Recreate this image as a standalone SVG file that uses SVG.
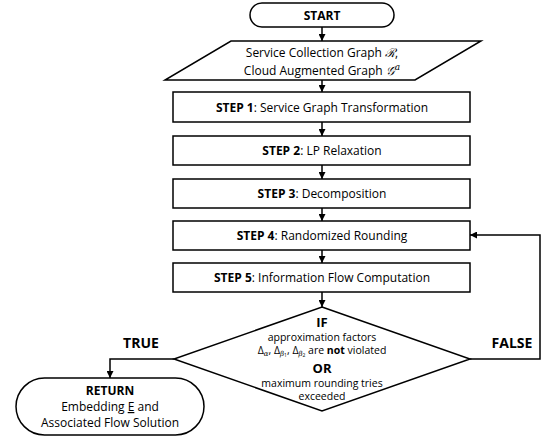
<svg xmlns="http://www.w3.org/2000/svg" width="547" height="438" viewBox="0 0 547 438">
<style>
.shape{fill:#fff;stroke:#000;stroke-width:1.5}
.conn{fill:none;stroke:#000;stroke-width:1.5}
text{font-family:"Open Sans","Liberation Sans",Arial,sans-serif;fill:#000;text-anchor:middle}
.t{font-size:12px}
.b{font-weight:bold}
.h{font-size:14px;font-weight:bold}
.d{font-size:13px;font-weight:bold}
.s{font-size:10.5px}
.m{font-family:"DejaVu Serif","Liberation Serif",serif;font-style:italic}
</style>
<defs>
<marker id="ah" viewBox="0 0 10 10" refX="10" refY="5" markerWidth="7" markerHeight="7" markerUnits="userSpaceOnUse" orient="auto">
<path d="M0,0 L10,5 L0,10 z" fill="#000"/>
</marker>
</defs>
<g id="connectors">
<line class="conn" x1="322" y1="27" x2="322" y2="41" marker-end="url(#ah)"/>
<line class="conn" x1="322" y1="80" x2="322" y2="92" marker-end="url(#ah)"/>
<line class="conn" x1="322" y1="122" x2="322" y2="136" marker-end="url(#ah)"/>
<line class="conn" x1="322" y1="165" x2="322" y2="179" marker-end="url(#ah)"/>
<line class="conn" x1="322" y1="208" x2="322" y2="221" marker-end="url(#ah)"/>
<line class="conn" x1="322" y1="250" x2="322" y2="263" marker-end="url(#ah)"/>
<line class="conn" x1="322" y1="292" x2="322" y2="307" marker-end="url(#ah)"/>
<polyline class="conn" points="174,359 110,359 110,378" marker-end="url(#ah)"/>
<polyline class="conn" points="470,359 540,359 540,235 470,235" marker-end="url(#ah)"/>
<text class="h" x="141" y="348">TRUE</text>
<text class="h" x="512" y="348">FALSE</text>
</g>
<g id="start">
<rect class="shape" x="250" y="3" width="144" height="24" rx="12" ry="12"/>
<text class="t b" x="322" y="19.5">START</text>
</g>
<g id="input">
<polygon class="shape" points="231,41 481,41 415,80 165,80"/>
<text class="t" x="322" y="57">Service Collection  Graph <tspan font-family="DejaVu Serif,serif" font-style="italic">ℛ</tspan>,</text>
<text class="t" x="322" y="75">Cloud Augmented Graph <tspan font-family="DejaVu Serif,serif" font-style="italic">𝒢</tspan><tspan class="m" font-size="9" dy="-5">a</tspan></text>
</g>
<g id="step1">
<rect class="shape" x="173" y="92" width="297" height="30"/>
<text class="t" x="322" y="111.5"><tspan class="b">STEP 1</tspan>: Service Graph Transformation</text>
</g>
<g id="step2">
<rect class="shape" x="173" y="136" width="297" height="29"/>
<text class="t" x="322" y="155"><tspan class="b">STEP 2</tspan>: LP Relaxation</text>
</g>
<g id="step3">
<rect class="shape" x="173" y="179" width="297" height="29"/>
<text class="t" x="322" y="198"><tspan class="b">STEP 3</tspan>: Decomposition</text>
</g>
<g id="step4">
<rect class="shape" x="173" y="221" width="297" height="29"/>
<text class="t" x="322" y="240"><tspan class="b">STEP 4</tspan>: Randomized Rounding</text>
</g>
<g id="step5">
<rect class="shape" x="173" y="263" width="297" height="29"/>
<text class="t" x="322" y="282"><tspan class="b">STEP 5</tspan>: Information Flow Computation</text>
</g>
<g id="decision">
<polygon class="shape" points="322,307 470,359 322,411 174,359"/>
<text class="d" x="322" y="327">IF</text>
<text class="s" x="322" y="341">approximation factors</text>
<text class="s" x="322" y="354">Δ<tspan class="m" font-size="7" dy="1.5">α</tspan><tspan dy="-1.5">, Δ</tspan><tspan class="m" font-size="7" dy="1.5">β</tspan><tspan font-size="5" dy="1">1</tspan><tspan dy="-2.5">, Δ</tspan><tspan class="m" font-size="7" dy="1.5">β</tspan><tspan font-size="5" dy="1">2</tspan><tspan dy="-2.5"> are </tspan><tspan class="b">not</tspan> violated</text>
<text class="d" x="322" y="373">OR</text>
<text class="s" x="322" y="387">maximum rounding tries</text>
<text class="s" x="322" y="400">exceeded</text>
</g>
<g id="return">
<rect class="shape" x="16" y="378" width="188" height="57" rx="28.5" ry="28.5"/>
<text class="t b" x="110" y="395">RETURN</text>
<text class="t" x="110" y="411">Embedding <tspan text-decoration="underline">E</tspan> and</text>
<text class="t" x="110" y="427">Associated Flow Solution</text>
</g>
</svg>
